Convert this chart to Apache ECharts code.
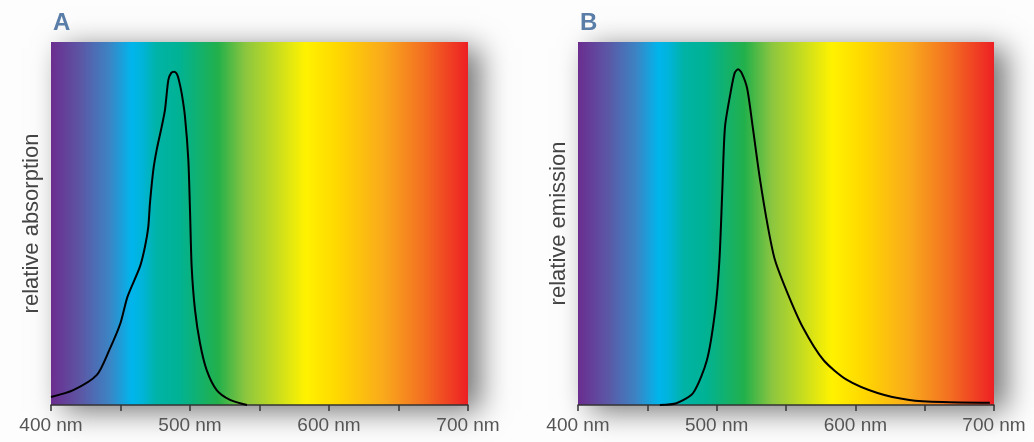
<!DOCTYPE html>
<html>
<head>
<meta charset="utf-8">
<script src="https://cdn.jsdelivr.net/npm/echarts@6/dist/echarts.min.js"></script>
<style>html,body{margin:0;padding:0;background:#fdfdfd;}#c{width:1034px;height:442px;}</style>
</head>
<body>
<div id="c"></div>
<script>
// ---- data ----
const xTicks = [400, 450, 500, 550, 600, 650, 700];
const panelLabels = ['A', 'B'];
const yNames = ['relative absorption', 'relative emission'];
const absWavelength = [400, 416, 433, 442, 450, 455, 464, 467.6, 470, 471.2, 473.6, 476, 479.6, 482, 484.4, 486.5, 488.6, 490.6, 492, 494, 496.4, 498.8, 500, 501.2, 503.6, 507.2, 512, 519.2, 528.8, 541];
const absValue =      [0.022, 0.041, 0.083, 0.152, 0.226, 0.298, 0.381, 0.436, 0.491, 0.556, 0.647, 0.702, 0.766, 0.813, 0.895, 0.915, 0.918, 0.912, 0.895, 0.859, 0.794, 0.675, 0.537, 0.381, 0.262, 0.17, 0.096, 0.041, 0.014, 0];
const emWavelength = [459, 471, 483, 493, 499, 502, 504, 506, 510, 513, 515.5, 518, 522, 526, 531, 537, 542, 551, 562, 577, 594, 616, 639, 663, 697];
const emValue =      [0, 0.005, 0.033, 0.124, 0.262, 0.4, 0.584, 0.766, 0.86, 0.915, 0.925, 0.915, 0.872, 0.766, 0.628, 0.49, 0.4, 0.309, 0.215, 0.124, 0.069, 0.033, 0.014, 0.008, 0.006];
// spectrum colour stops (wavelength -> colour)
const spectrumNm =    [400, 422, 442, 458, 466, 476, 492, 520, 540, 583, 605, 640, 668, 700];
const spectrumColor = ['#6b2d8f', '#5b58a6', '#3c84c4', '#00b5ec', '#00b4d8', '#00b3a6', '#00b294', '#22b04b', '#8cc63f', '#fff200', '#ffd900', '#f9a81c', '#f36f21', '#ed1f24'];

const chart = echarts.init(document.getElementById('c'));
const font = "'Liberation Sans', Arial, sans-serif";
const grad = new echarts.graphic.LinearGradient(0, 0, 1, 0,
  spectrumNm.map((nm, i) => ({ offset: (nm - 400) / 300, color: spectrumColor[i] })));

const grids = [
  { left: 51, right: 566, top: 42, bottom: 37 },
  { left: 578, right: 40, top: 42, bottom: 37 }
].map(g => Object.assign(g, {
  show: true, backgroundColor: grad, borderWidth: 0,
  shadowBlur: 28, shadowColor: 'rgba(0,0,0,0.55)', shadowOffsetX: 12, shadowOffsetY: 6
}));

const xAxes = [0, 1].map(i => ({
  gridIndex: i, type: 'value', min: xTicks[0], max: xTicks[xTicks.length - 1], interval: 50,
  splitLine: { show: false },
  axisLine: { lineStyle: { color: '#333', width: 1.5 } },
  axisTick: { show: true, length: 6, lineStyle: { color: '#333', width: 1.5 } },
  axisLabel: {
    margin: 11, color: '#555', fontSize: 19, fontFamily: font,
    formatter: v => (v % 100 === 0 ? v + ' nm' : '')
  }
}));

const yAxes = [0, 1].map(i => ({
  gridIndex: i, type: 'value', min: 0, max: 1,
  axisLine: { show: false }, axisTick: { show: false }, axisLabel: { show: false }, splitLine: { show: false },
  name: yNames[i], nameLocation: 'middle', nameGap: 8,
  nameTextStyle: { color: '#444', fontSize: 22, fontFamily: font }
}));

chart.setOption({
  animation: false,
  title: panelLabels.map((t, i) => ({
    text: t, left: i === 0 ? 53 : 580, top: 11, padding: 0,
    textStyle: { color: '#5a7ea7', fontSize: 24, fontWeight: 'bold', fontFamily: font }
  })),
  grid: grids,
  xAxis: xAxes,
  yAxis: yAxes,
  series: [
    { type: 'line', xAxisIndex: 0, yAxisIndex: 0, data: absWavelength.map((w, i) => [w, absValue[i]]),
      smooth: 0.25, showSymbol: false, lineStyle: { color: '#000', width: 2 } },
    { type: 'line', xAxisIndex: 1, yAxisIndex: 1, data: emWavelength.map((w, i) => [w, emValue[i]]),
      smooth: 0.25, showSymbol: false, lineStyle: { color: '#000', width: 2 } }
  ]
});
</script>
</body>
</html>
